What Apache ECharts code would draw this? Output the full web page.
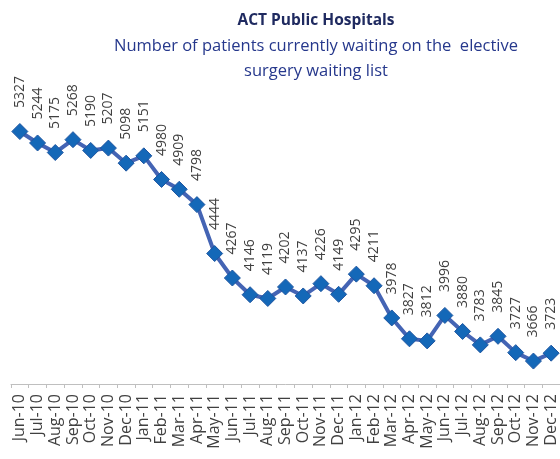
<!DOCTYPE html>
<html>
<head>
<meta charset="utf-8">
<script src="https://cdn.jsdelivr.net/npm/echarts@6/dist/echarts.min.js"></script>
<style>
  html, body { margin: 0; padding: 0; background: #fff; }
  #chart { width: 560px; height: 459px; }
</style>
</head>
<body>
<div id="chart"></div>
<script>
const months = ['Jun-10', 'Jul-10', 'Aug-10', 'Sep-10', 'Oct-10', 'Nov-10', 'Dec-10',
  'Jan-11', 'Feb-11', 'Mar-11', 'Apr-11', 'May-11', 'Jun-11', 'Jul-11', 'Aug-11', 'Sep-11',
  'Oct-11', 'Nov-11', 'Dec-11', 'Jan-12', 'Feb-12', 'Mar-12', 'Apr-12', 'May-12', 'Jun-12',
  'Jul-12', 'Aug-12', 'Sep-12', 'Oct-12', 'Nov-12', 'Dec-12'];

const waiting = [5327, 5244, 5175, 5268, 5190, 5207, 5098,
  5151, 4980, 4909, 4798, 4444, 4267, 4146, 4119, 4202,
  4137, 4226, 4149, 4295, 4211, 3978, 3827, 3812, 3996,
  3880, 3783, 3845, 3727, 3666, 3723];

const titleText = 'ACT Public Hospitals';
const subText = 'Number of patients currently waiting on the  elective\nsurgery waiting list';

var chartDom = document.getElementById('chart');
var myChart = echarts.init(chartDom);

var option = {
  animation: false,
  title: [
    {
      text: titleText,
      left: 311,
      top: 8,
      textAlign: 'center',
      textStyle: {
        fontFamily: 'Open Sans',
        fontSize: 15.5,
        fontWeight: 'bold',
        color: '#1F2A60'
      }
    },
    {
      text: subText,
      left: 311,
      top: 28.5,
      textAlign: 'center',
      textStyle: {
        fontFamily: 'Open Sans',
        fontSize: 16.5,
        fontWeight: 'normal',
        lineHeight: 25,
        color: '#26388C'
      }
    }
  ],
  grid: {
    left: 11,
    right: -3,
    top: 38.5,
    bottom: 75
  },
  xAxis: {
    type: 'category',
    data: months,
    boundaryGap: true,
    axisLine: { lineStyle: { color: '#BFBFBF', width: 1 } },
    axisTick: { show: true, length: 4, lineStyle: { color: '#BFBFBF' } },
    axisLabel: {
      rotate: 90,
      interval: 0,
      margin: 10,
      fontFamily: 'Open Sans',
      fontSize: 16,
      color: '#404040'
    }
  },
  yAxis: {
    type: 'value',
    min: 3500,
    max: 6000,
    show: false,
    splitLine: { show: false }
  },
  series: [
    {
      type: 'line',
      data: waiting,
      symbol: 'diamond',
      symbolSize: 16,
      lineStyle: { color: '#4464B4', width: 4 },
      itemStyle: { color: '#1468B8', borderColor: '#1E55A0', borderWidth: 1 },
      label: {
        show: true,
        position: 'top',
        distance: 15,
        rotate: 90,
        align: 'left',
        verticalAlign: 'middle',
        fontFamily: 'Open Sans',
        fontSize: 14,
        color: '#404040'
      }
    }
  ]
};

option && myChart.setOption(option);
</script>
</body>
</html>
